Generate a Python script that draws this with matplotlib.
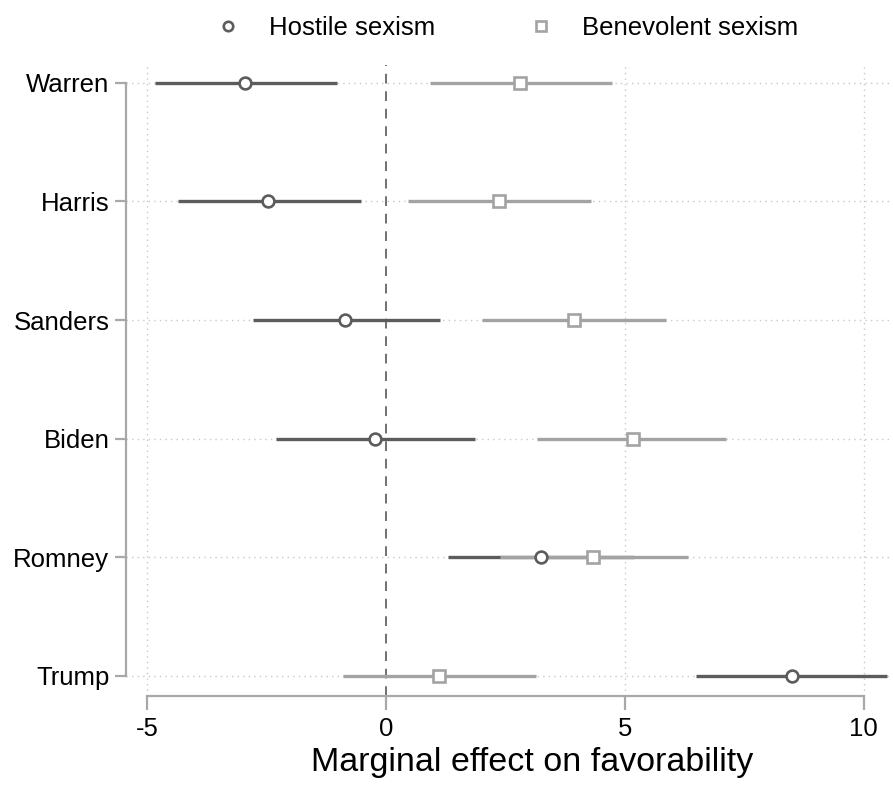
import matplotlib
matplotlib.use("Agg")
import matplotlib.pyplot as plt
import numpy as np

plt.rcParams['font.family'] = ['Liberation Sans', 'DejaVu Sans']

candidates = ["Warren", "Harris", "Sanders", "Biden", "Romney", "Trump"]
hostile_est = [-2.95, -2.47, -0.86, -0.23, 3.24, 8.49]
hostile_lo = [-4.83, -4.35, -2.78, -2.30, 1.30, 6.50]
hostile_hi = [-1.03, -0.52, 1.13, 1.86, 5.20, 10.48]
benev_est = [2.80, 2.36, 3.93, 5.17, 4.33, 1.11]
benev_lo = [0.92, 0.46, 2.01, 3.16, 2.38, -0.90]
benev_hi = [4.73, 4.29, 5.86, 7.11, 6.32, 3.14]
xticks = [-5, 0, 5, 10]

W, H = 893, 785
fig = plt.figure(figsize=(W / 100, H / 100), dpi=100)
ax = fig.add_axes([126 / W, (H - 696) / H, (890 - 126) / W, (696 - 65) / H])

ypos = np.arange(len(candidates))[::-1]
dark = '#5c5c5c'
light = '#a3a3a3'
spine_c = '#a8a8a8'

for xv in [-5, 5, 10]:
    ax.axvline(xv, color='#c8c8c8', lw=1.0, ls=(0, (1, 3)), zorder=0)
for y in ypos:
    ax.axhline(y, color='#c8c8c8', lw=1.0, ls=(0, (1, 3)), zorder=0)
ax.axvline(0, color='#707070', lw=1.4, ls=(0, (5, 4)), zorder=1)

ax.hlines(ypos, hostile_lo, hostile_hi, color=dark, lw=2.4, zorder=2)
ax.hlines(ypos, benev_lo, benev_hi, color=light, lw=2.4, zorder=3)
ax.plot(hostile_est, ypos, 'o', ms=8.5, mfc='white', mec=dark, mew=1.9, zorder=4,
        label='Hostile sexism', ls='none')
ax.plot(benev_est, ypos, 's', ms=8.5, mfc='white', mec=light, mew=1.9, zorder=4,
        label='Benevolent sexism', ls='none')

ax.set_xlim(-5.44, 10.55)
ax.set_ylim(-0.17, 5.15)
ax.set_yticks(ypos)
ax.set_yticklabels(candidates)
ax.set_xticks(xticks)
ax.set_xticklabels([str(v) for v in xticks])

for s in ['top', 'right']:
    ax.spines[s].set_visible(False)
ax.spines['left'].set_bounds(0, 5)
ax.spines['bottom'].set_bounds(-5, 10)
for s in ['left', 'bottom']:
    ax.spines[s].set_color(spine_c)
    ax.spines[s].set_linewidth(1.6)
ax.tick_params(axis='y', length=8, width=1.6, color=spine_c, labelsize=18.5, pad=4)
ax.tick_params(axis='x', length=10, width=1.6, color=spine_c, labelsize=18.5, pad=5)

fig.text(532 / W, 1 - 763 / H, 'Marginal effect on favorability', ha='center', va='center',
         fontsize=24.5)

leg = fig.legend(loc='center', bbox_to_anchor=(500 / W, 1 - 28 / H), ncol=2, frameon=False,
                 fontsize=18.5, handletextpad=0.6, columnspacing=3.1, markerscale=0.8)

fig.savefig('out.png', dpi=100)
